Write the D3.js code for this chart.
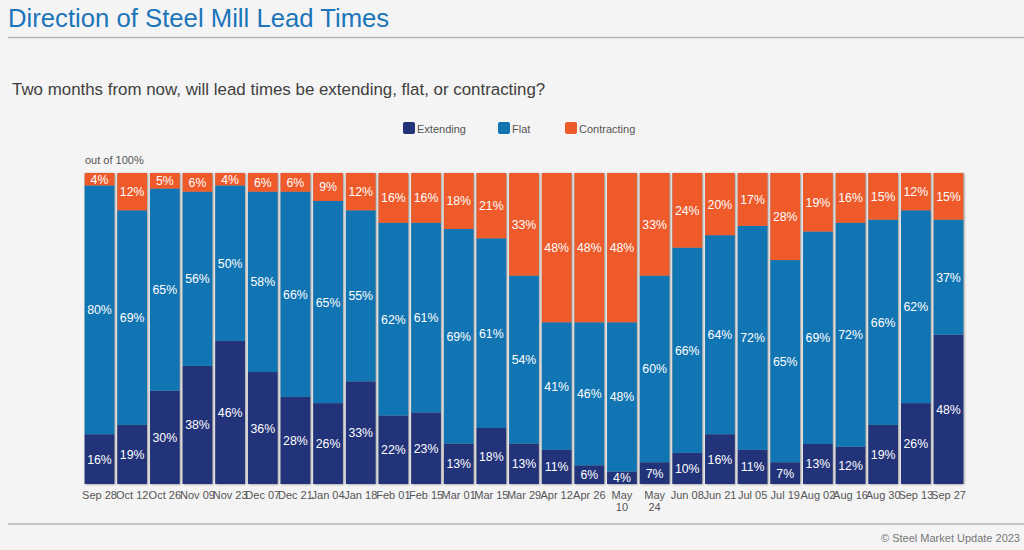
<!DOCTYPE html>
<html>
<head>
<meta charset="utf-8">
<script src="https://cdn.jsdelivr.net/npm/d3@7"></script>
<style>
  html, body { margin: 0; padding: 0; background: #f4f4f4; }
  svg { display: block; font-family: "Liberation Sans", Arial, sans-serif; }
</style>
</head>
<body>
<svg id="chart" width="1024" height="550"></svg>
<script>
const categories = ["Sep 28","Oct 12","Oct 26","Nov 09","Nov 23","Dec 07","Dec 21","Jan 04","Jan 18","Feb 01","Feb 15","Mar 01","Mar 15","Mar 29","Apr 12","Apr 26","May 10","May 24","Jun 08","Jun 21","Jul 05","Jul 19","Aug 02","Aug 16","Aug 30","Sep 13","Sep 27"];
const extending   = [16,19,30,38,46,36,28,26,33,22,23,13,18,13,11,6,4,7,10,16,11,7,13,12,19,26,48];
const flat        = [80,69,65,56,50,58,66,65,55,62,61,69,61,54,41,46,48,60,66,64,72,65,69,72,66,62,37];
const contracting = [4,12,5,6,4,6,6,9,12,16,16,18,21,33,48,48,48,33,24,20,17,28,19,16,15,12,15];
const seriesNames = ["Extending","Flat","Contracting"];
const colors = ["#22337a","#1275b3","#ee5a2a"];

const svg = d3.select("#chart");
const W = 1024, H = 550;

const defs = svg.append("defs");
const f = defs.append("filter").attr("id","sh").attr("x","-20%").attr("y","-5%").attr("width","140%").attr("height","110%");
f.append("feDropShadow").attr("dx",1).attr("dy",0.5).attr("stdDeviation",1.2).attr("flood-color","#777").attr("flood-opacity",0.75);

svg.append("text").attr("x",8).attr("y",27).attr("font-size",25.7).attr("fill","#1b75bb").text("Direction of Steel Mill Lead Times");
svg.append("line").attr("x1",8).attr("x2",W).attr("y1",37.5).attr("y2",37.5).attr("stroke","#b5b5b5").attr("stroke-width",1.5);

svg.append("text").attr("x",12).attr("y",95).attr("font-size",16.9).attr("fill","#404040")
  .text("Two months from now, will lead times be extending, flat, or contracting?");

const legendX = [403, 498, 565];
seriesNames.forEach((n,i) => {
  const g = svg.append("g").attr("transform",`translate(${legendX[i]},122)`);
  g.append("rect").attr("width",12).attr("height",12).attr("rx",2).attr("fill",colors[i]);
  g.append("text").attr("x",14).attr("y",10.5).attr("font-size",11).attr("fill","#555").text(n);
});

svg.append("text").attr("x",85).attr("y",164).attr("font-size",11).attr("fill","#555").text("out of 100%");

const table = categories.map((c,i) => ({cat:c, Extending:extending[i], Flat:flat[i], Contracting:contracting[i]}));
const stack = d3.stack().keys(seriesNames).offset(d3.stackOffsetExpand);
const stacked = stack(table);

const x = d3.scaleBand().domain(categories).range([84, 964]).paddingInner(0.09).paddingOuter(0.02);
const y = d3.scaleLinear().domain([0,1]).range([484, 173]);

svg.append("g").selectAll("rect").data(categories).join("rect")
  .attr("x", d => x(d)).attr("width", x.bandwidth())
  .attr("y", y(1)).attr("height", y(0)-y(1))
  .attr("fill","#999").attr("filter","url(#sh)");

const layers = svg.append("g").selectAll("g").data(stacked).join("g").attr("fill",(d,i)=>colors[i]);
layers.selectAll("rect").data(d => d).join("rect")
  .attr("x", d => x(d.data.cat)).attr("width", x.bandwidth())
  .attr("y", d => y(d[1])).attr("height", d => y(d[0]) - y(d[1]));

const labG = svg.append("g").attr("font-size",12.3).attr("fill","#fff").attr("text-anchor","middle");
stacked.forEach((layer, li) => {
  layer.forEach(d => {
    const v = d.data[seriesNames[li]];
    let cy = (y(d[0]) + y(d[1])) / 2;
    if (li === 0) cy = Math.min(cy, 478);
    labG.append("text").attr("x", x(d.data.cat) + x.bandwidth()/2).attr("y", cy + 4.5).text(v + "%");
  });
});

const xAxis = svg.append("g").attr("transform","translate(0,484)").call(d3.axisBottom(x).tickSize(0).tickPadding(0));
xAxis.select(".domain").remove();
xAxis.selectAll("text").remove();
xAxis.selectAll(".tick").each(function(d){
  const t = d3.select(this).append("text").attr("fill","#555").attr("font-size",11).attr("text-anchor","middle").attr("y",15);
  if (d === "May 10" || d === "May 24") {
    const p = d.split(" ");
    t.append("tspan").attr("x",0).attr("dy",0).text(p[0]);
    t.append("tspan").attr("x",0).attr("dy",12).text(p[1]);
  } else {
    t.text(d);
  }
});

svg.append("line").attr("x1",8).attr("x2",W).attr("y1",524).attr("y2",524).attr("stroke","#b5b5b5").attr("stroke-width",1.5);
svg.append("text").attr("x",1020).attr("y",542).attr("text-anchor","end").attr("font-size",11).attr("fill","#777").text("© Steel Market Update 2023");
</script>
</body>
</html>
